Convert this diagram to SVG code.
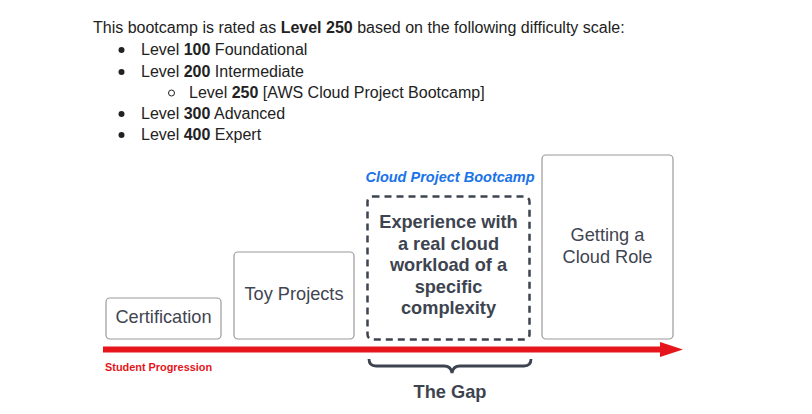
<svg xmlns="http://www.w3.org/2000/svg" width="812" height="414" viewBox="0 0 812 414">
<style>
.t{font-family:"Liberation Sans",Arial,sans-serif;font-size:16px;fill:#222}
.b{font-weight:bold}
.box{fill:#fff;stroke:#9a9a9a;stroke-width:1.2}
.lbl{font-family:"Liberation Sans",Arial,sans-serif;font-size:18.2px;fill:#3f4551;text-anchor:middle}
.lblb{font-family:"Liberation Sans",Arial,sans-serif;font-size:18.2px;fill:#3d4450;font-weight:bold;text-anchor:middle}
</style>
<rect width="812" height="414" fill="#fff"/>
<g id="intro">
<text class="t" x="93" y="33">This bootcamp is rated as <tspan class="b">Level 250</tspan> based on the following difficulty scale:</text>
<circle cx="121.5" cy="50" r="3" fill="#222"/>
<text class="t" x="141" y="55">Level <tspan class="b">100</tspan> Foundational</text>
<circle cx="121.5" cy="72" r="3" fill="#222"/>
<text class="t" x="141" y="77">Level <tspan class="b">200</tspan> Intermediate</text>
<circle cx="171.5" cy="93" r="3" fill="none" stroke="#222" stroke-width="1"/>
<text class="t" x="189" y="98">Level <tspan class="b">250</tspan> [AWS Cloud Project Bootcamp]</text>
<circle cx="121.5" cy="114" r="3" fill="#222"/>
<text class="t" x="141" y="119">Level <tspan class="b">300</tspan> Advanced</text>
<circle cx="121.5" cy="135" r="3" fill="#222"/>
<text class="t" x="141" y="140">Level <tspan class="b">400</tspan> Expert</text>
</g>
<g id="certification">
<rect class="box" x="106" y="298" width="115" height="41" rx="4"/>
<text class="lbl" x="163.5" y="323">Certification</text>
</g>
<g id="toy-projects">
<rect class="box" x="234" y="252" width="120" height="87" rx="4"/>
<text class="lbl" x="294" y="300">Toy Projects</text>
</g>
<g id="bootcamp">
<text x="450" y="182" text-anchor="middle" font-family="'Liberation Sans',Arial,sans-serif" font-size="14.5" font-weight="bold" font-style="italic" fill="#1a73e8">Cloud Project Bootcamp</text>
<rect x="367.5" y="196.5" width="162" height="143" rx="5" fill="#fff" stroke="#3d4450" stroke-width="2.5" stroke-dasharray="7,5"/>
<text class="lblb" x="448.5" y="228">Experience with</text>
<text class="lblb" x="448.5" y="250">a real cloud</text>
<text class="lblb" x="448.5" y="271">workload of a</text>
<text class="lblb" x="448.5" y="293">specific</text>
<text class="lblb" x="448.5" y="314">complexity</text>
</g>
<g id="cloud-role">
<rect class="box" x="542" y="155" width="131" height="184" rx="4"/>
<text class="lbl" x="607.5" y="241">Getting a</text>
<text class="lbl" x="607.5" y="263">Cloud Role</text>
</g>
<g id="connectors">
<line x1="103" y1="349.5" x2="664" y2="349.5" stroke="#e5151b" stroke-width="6"/>
<polygon points="660,342 683,349.5 660,357" fill="#e5151b"/>
<path d="M369,359 Q369,366 376,366 L444,366 Q451,366 452,373 Q453,366 460,366 L524,366 Q531,366 531,359" fill="none" stroke="#3d4450" stroke-width="2.8"/>
</g>
<g id="labels">
<text x="105" y="371" font-family="'Liberation Sans',Arial,sans-serif" font-size="10.9" font-weight="bold" fill="#e5151b">Student Progression</text>
<text class="lblb" x="450" y="398">The Gap</text>
</g>
</svg>
